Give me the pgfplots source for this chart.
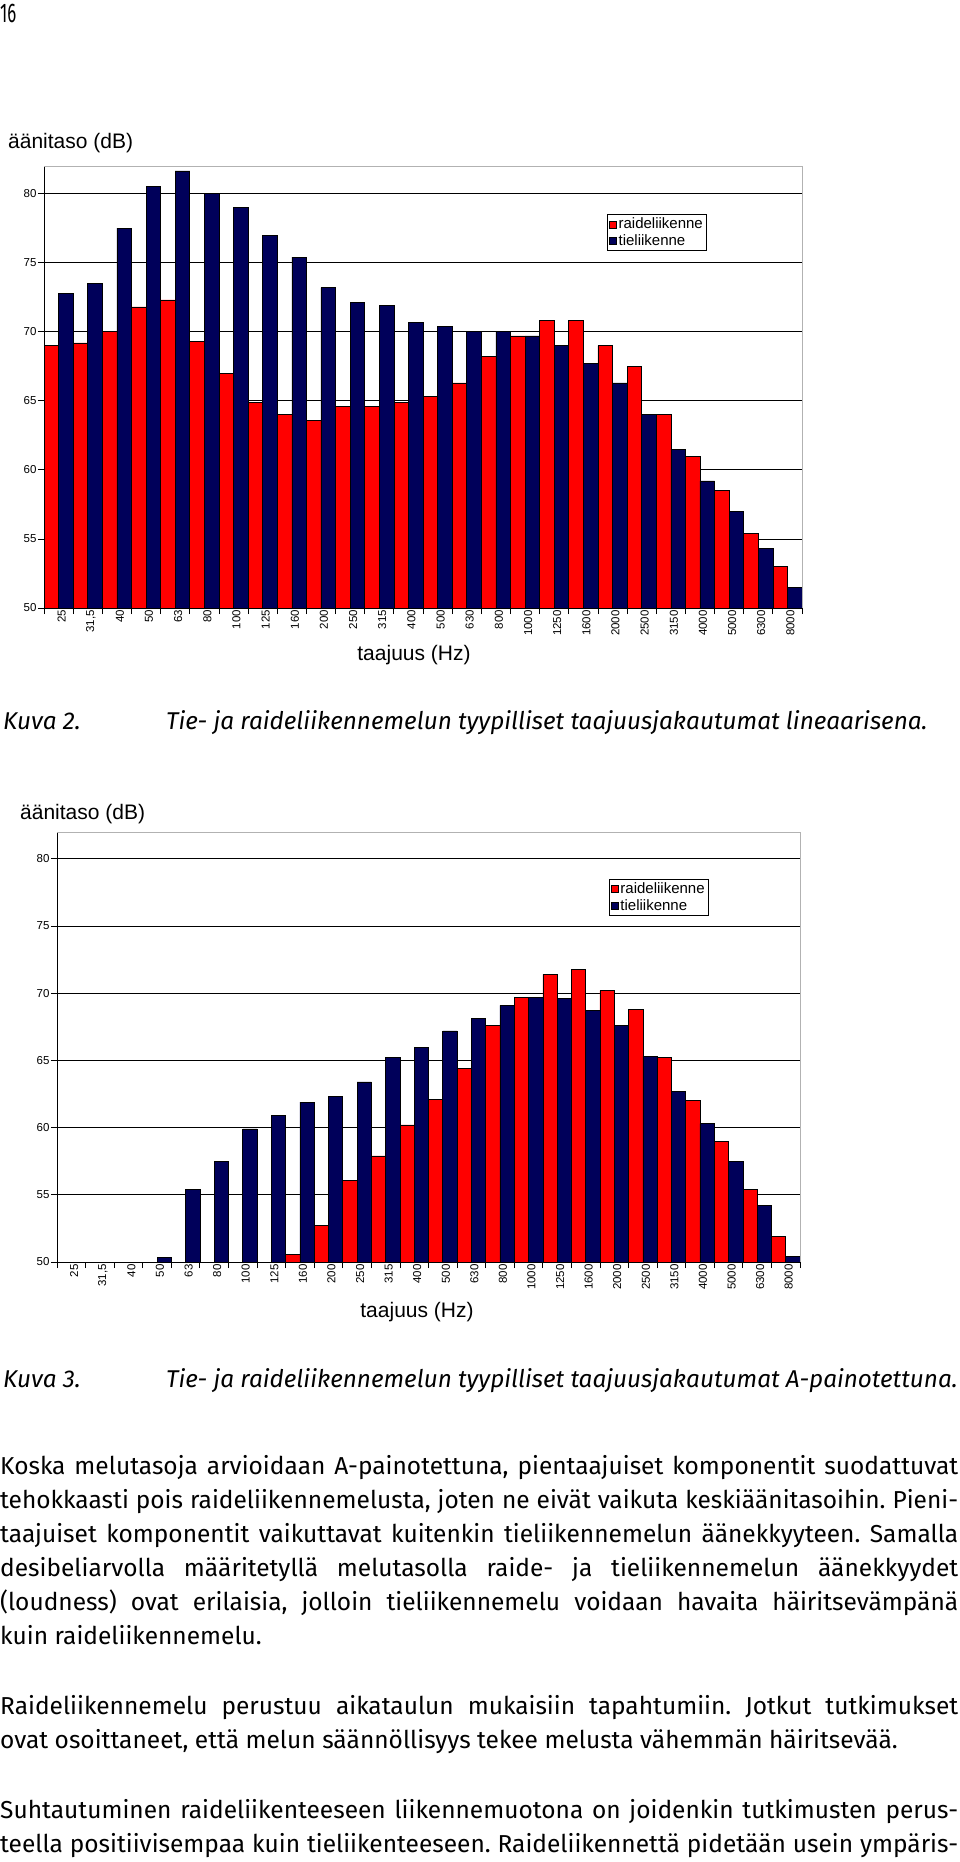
\documentclass[border=0pt]{standalone}
\usepackage{fontspec}
\setmainfont{Fira Sans}
\newfontfamily\arial{Liberation Sans}
\usepackage{pgfplots}
\usepackage{pgfplotstable}
\pgfplotsset{compat=1.18}
\definecolor{navyb}{RGB}{0,0,90}
\definecolor{redb}{RGB}{255,0,0}
\frenchspacing

% Kuva 2: linear
\pgfplotstableread{
i r b
0 69.0 72.8
1 69.2 73.5
2 70.0 77.5
3 71.8 80.5
4 72.3 81.65
5 69.3 80.0
6 67.0 79.0
7 64.9 76.95
8 64.0 75.4
9 63.6 73.2
10 64.6 72.1
11 64.6 71.9
12 64.9 70.7
13 65.3 70.4
14 66.3 70.0
15 68.2 70.0
16 69.7 69.7
17 70.8 69.0
18 70.8 67.7
19 69.0 66.3
20 67.5 64.0
21 64.0 61.5
22 61.0 59.2
23 58.5 57.0
24 55.4 54.3
25 53.0 51.5
}\linA

% Kuva 3: A-weighted
\pgfplotstableread{
i r
8 50.56
9 52.7
10 56.1
11 57.9
12 60.2
13 62.1
14 64.4
15 67.6
16 69.7
17 71.4
18 71.8
19 70.2
20 68.8
21 65.2
22 62.05
23 59.0
24 55.4
25 51.9
}\redB
\pgfplotstableread{
i b
3 50.33
4 55.4
5 57.5
6 59.9
7 60.9
8 61.9
9 62.3
10 63.4
11 65.2
12 66.0
13 67.2
14 68.15
15 69.1
16 69.7
17 69.6
18 68.7
19 67.6
20 65.3
21 62.7
22 60.3
23 57.5
24 54.2
25 50.4
}\blueB

\newcommand\tickfont{\arial\fontsize{11.5}{12}\selectfont}
\newcommand\labfont{\arial\fontsize{21}{24}\selectfont}
\newcommand\bodyfont{\fontsize{24.5}{30}\selectfont}
\newcommand\capfont{\fontsize{24.3}{28}\selectfont\itshape}

\pgfplotsset{chart/.style={
  scale only axis,
  xmin=-0.5, xmax=25.5, ymin=50, ymax=82,
  axis lines*=left,
  axis line style={black, line width=0.9pt},
  ytick={50,55,...,80},
  minor ytick={50,55,...,80},
  ymajorgrids,
  major grid style={black, line width=0.8pt},
  xtick={0,...,25},
  xticklabels={25,{31,5},40,50,63,80,100,125,160,200,250,315,400,500,630,800,1000,1250,1600,2000,2500,3150,4000,5000,6300,8000},
  minor xtick={-0.5,0.5,...,25.5},
  tick align=outside,
  major tick length=0pt,
  minor tick length=6pt,
  tick style={black, line width=0.8pt},
  minor tick style={black, line width=0.8pt},
  xticklabel style={rotate=90, anchor=east, font=\tickfont, inner sep=2pt, yshift=-3pt},
  yticklabel style={font=\tickfont, xshift=-4pt},
  /pgf/number format/assume math mode=true,
  legend style={at={(0.743,0.891)}, anchor=north west, draw=black, line width=0.8pt,
    font=\arial\fontsize{15}{17}\selectfont, inner sep=1.5pt, row sep=0pt},
  legend cell align=left,
}}
\pgfplotsset{
  redbar/.style={ybar, bar width=0.5, bar shift=-0.25, fill=redb, draw=black, line width=0.6pt,
    legend image code/.code={\draw[fill=redb, draw=black, line width=0.5pt] (0pt,-3.5pt) rectangle (7pt,3.5pt);}},
  bluebar/.style={ybar, bar width=0.5, bar shift=0.25, fill=navyb, draw=black, line width=0.6pt,
    legend image code/.code={\draw[fill=navyb, draw=black, line width=0.5pt] (0pt,-3.5pt) rectangle (7pt,3.5pt);}},
}

\begin{document}
\begin{tikzpicture}
\fill[white] (0pt,0pt) rectangle (960pt,-1862pt);
\path[use as bounding box] (0pt,0pt) rectangle (960pt,-1862pt);

% page number
\node[anchor=base west, inner sep=0] at (0pt,-23pt) {\scalebox{0.62}[1]{\fontsize{27}{30}\selectfont 16}};

% ---- Kuva 2 ----
\node[anchor=base west, inner sep=0] at (8pt,-149pt) {\labfont äänitaso (dB)};
\begin{axis}[chart, name=ax1, at={(44pt,-608pt)}, anchor=south west, width=758pt, height=442pt]
\addplot[redbar] table[x=i,y=r]{\linA};
\addplot[bluebar] table[x=i,y=b]{\linA};
\legend{raideliikenne, tieliikenne}
\end{axis}
\draw[gray!60, line width=0.9pt] (ax1.north west) -- (ax1.north east) -- (ax1.south east);
\node[anchor=base, inner sep=0] at (414pt,-660pt) {\labfont taajuus (Hz)};

\node[anchor=base west, inner sep=0] at (3pt,-729pt) {\capfont Kuva 2.};
\node[anchor=base west, inner sep=0] at (166pt,-729pt) {\capfont Tie- ja raideliikennemelun tyypilliset taajuusjakautumat lineaarisena.};

% ---- Kuva 3 ----
\node[anchor=base west, inner sep=0] at (20pt,-819pt) {\labfont äänitaso (dB)};
\begin{axis}[chart, name=ax2, at={(57pt,-1262pt)}, anchor=south west, width=743pt, height=430pt]
\addplot[redbar] table[x=i,y=r]{\redB};
\addplot[bluebar] table[x=i,y=b]{\blueB};
\legend{raideliikenne, tieliikenne}
\end{axis}
\draw[gray!60, line width=0.9pt] (ax2.north west) -- (ax2.north east) -- (ax2.south east);
\node[anchor=base, inner sep=0] at (417pt,-1317pt) {\labfont taajuus (Hz)};

\node[anchor=base west, inner sep=0] at (3pt,-1387pt) {\capfont Kuva 3.};
\node[anchor=base west, inner sep=0] at (166pt,-1387pt) {\capfont Tie- ja raideliikennemelun tyypilliset taajuusjakautumat A-painotettuna.};

% ---- body text ----
\begin{scope}[every node/.style={anchor=base west, inner sep=0}]
\node at (0pt,-1474.5pt) {\bodyfont\makebox[958pt][s]{Koska melutasoja arvioidaan A-painotettuna, pientaajuiset komponentit suodattuvat}};
\node at (0pt,-1508.4pt) {\bodyfont\makebox[958pt][s]{tehokkaasti pois raideliikennemelusta, joten ne eivät vaikuta keskiäänitasoihin. Pieni-}};
\node at (0pt,-1542.3pt) {\bodyfont\makebox[958pt][s]{taajuiset komponentit vaikuttavat kuitenkin tieliikennemelun äänekkyyteen. Samalla}};
\node at (0pt,-1576.2pt) {\bodyfont\makebox[958pt][s]{desibeliarvolla määritetyllä melutasolla raide- ja tieliikennemelun äänekkyydet}};
\node at (0pt,-1610.1pt) {\bodyfont\makebox[958pt][s]{(loudness) ovat erilaisia, jolloin tieliikennemelu voidaan havaita häiritsevämpänä}};
\node at (0pt,-1644pt) {\bodyfont kuin raideliikennemelu.};
\node at (0pt,-1714pt) {\bodyfont\makebox[958pt][s]{Raideliikennemelu perustuu aikataulun mukaisiin tapahtumiin. Jotkut tutkimukset}};
\node at (0pt,-1748pt) {\bodyfont ovat osoittaneet, että melun säännöllisyys tekee melusta vähemmän häiritsevää.};
\node at (0pt,-1818pt) {\bodyfont\makebox[958pt][s]{Suhtautuminen raideliikenteeseen liikennemuotona on joidenkin tutkimusten perus-}};
\node at (0pt,-1852pt) {\bodyfont\makebox[958pt][s]{teella positiivisempaa kuin tieliikenteeseen. Raideliikennettä pidetään usein ympäris-}};
\end{scope}
\end{tikzpicture}
\end{document}
